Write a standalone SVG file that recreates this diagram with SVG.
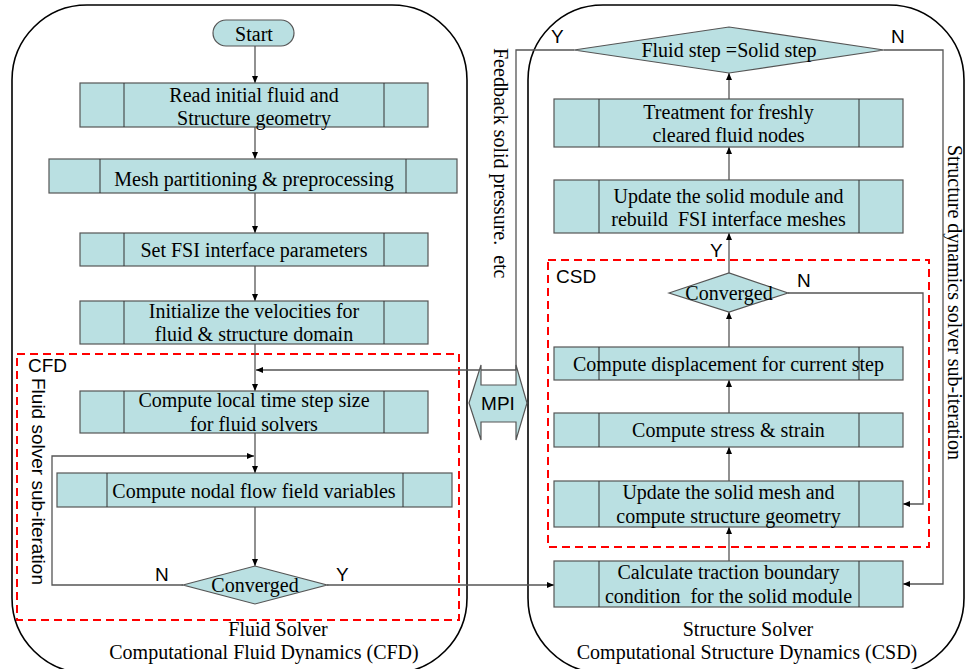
<svg xmlns="http://www.w3.org/2000/svg" width="965" height="669" viewBox="0 0 965 669">
<style>
.frame{fill:none;stroke:#000;stroke-width:1.6}
.dash{fill:none;stroke:#ff0000;stroke-width:2;stroke-dasharray:8,5}
.box{fill:#bae0e2;stroke:#555;stroke-width:1.2}
.inner{fill:none;stroke:#333;stroke-width:1}
.con{fill:none;stroke:#555;stroke-width:1.3}
.t{font-family:"Liberation Serif","Times New Roman",serif;font-size:20px;fill:#000;text-anchor:middle}
.s{font-family:"Liberation Sans",Arial,sans-serif;font-size:19px;fill:#000}
.pre{white-space:pre}
</style>
<defs>
<marker id="ah" markerUnits="userSpaceOnUse" markerWidth="8" markerHeight="8" refX="7" refY="3" orient="auto">
<path d="M0,0L7,3L0,6z" fill="#000"/>
</marker>
</defs>
<rect class="frame" x="12" y="5" width="455" height="668" rx="75" ry="75"/>
<rect class="frame" x="528" y="5" width="436" height="668" rx="75" ry="75"/>
<rect class="dash" x="17" y="354" width="442" height="266"/>
<rect class="dash" x="548" y="260" width="381" height="287"/>
<text class="s" x="28" y="372">CFD</text>
<text class="s" x="556" y="283">CSD</text>
<text class="s" transform="translate(32,378) rotate(90)">Fluid solver sub-iteration</text>
<text class="t pre" style="text-anchor:start" transform="translate(494,48) rotate(90)">Feedback solid pressure.  etc</text>
<text class="t" style="text-anchor:start" transform="translate(948,145) rotate(90)">Structure dynamics solver sub-iteration</text>
<text class="t" x="278" y="636">Fluid Solver</text>
<text class="t" x="264" y="659">Computational Fluid Dynamics (CFD)</text>
<text class="t" x="748" y="636">Structure Solver</text>
<text class="t" x="747" y="659">Computational Structure Dynamics (CSD)</text>
<g id="connectors">
<path class="con" marker-end="url(#ah)" d="M255,46V83"/>
<path class="con" marker-end="url(#ah)" d="M255,127V159"/>
<path class="con" marker-end="url(#ah)" d="M255,193V233"/>
<path class="con" marker-end="url(#ah)" d="M255,266V301"/>
<path class="con" marker-end="url(#ah)" d="M255,344V391"/>
<path class="con" marker-end="url(#ah)" d="M574,50H516V370H256"/>
<path class="con" marker-end="url(#ah)" d="M255,433V473"/>
<path class="con" marker-end="url(#ah)" d="M183,585H52V456H254"/>
<path class="con" marker-end="url(#ah)" d="M255,507V566"/>
<path class="con" marker-end="url(#ah)" d="M327,585H554"/>
<path class="con" marker-end="url(#ah)" d="M729,561V527"/>
<path class="con" marker-end="url(#ah)" d="M729,481V447"/>
<path class="con" marker-end="url(#ah)" d="M729,413V380"/>
<path class="con" marker-end="url(#ah)" d="M729,347V312"/>
<path class="con" marker-end="url(#ah)" d="M729,273V233"/>
<path class="con" marker-end="url(#ah)" d="M729,180V147"/>
<path class="con" marker-end="url(#ah)" d="M729,99V73"/>
<path class="con" marker-end="url(#ah)" d="M788,293H923V504H903"/>
<path class="con" marker-end="url(#ah)" d="M884,50H943V584H903"/>
<text class="s" x="155" y="581">N</text>
<text class="s" x="336" y="581">Y</text>
<text class="s" x="551" y="43">Y</text>
<text class="s" x="891" y="43">N</text>
<text class="s" x="710" y="257">Y</text>
<text class="s" x="797" y="287">N</text>
</g>
<g id="n-start">
<rect class="box" x="213" y="20" width="81" height="26" rx="13" ry="13"/>
<text class="t" x="254" y="41">Start</text>
</g>
<g id="n-read">
<rect class="box" x="80" y="83" width="348" height="44"/>
<path class="inner" d="M124,83V127M384,83V127"/>
<text class="t"><tspan x="254" y="101.5">Read initial fluid and</tspan><tspan x="254" y="125">Structure geometry</tspan></text>
</g>
<g id="n-mesh">
<rect class="box" x="49" y="159" width="408" height="34"/>
<path class="inner" d="M100,159V193M406,159V193"/>
<text class="t" x="254" y="185.5">Mesh partitioning &amp; preprocessing</text>
</g>
<g id="n-fsi">
<rect class="box" x="80" y="233" width="348" height="33"/>
<path class="inner" d="M124,233V266M384,233V266"/>
<text class="t" x="254" y="256.5">Set FSI interface parameters</text>
</g>
<g id="n-init">
<rect class="box" x="80" y="301" width="348" height="43"/>
<path class="inner" d="M124,301V344M384,301V344"/>
<text class="t"><tspan x="254" y="318">Initialize the velocities for</tspan><tspan x="254" y="341">fluid &amp; structure domain</tspan></text>
</g>
<g id="n-timestep">
<rect class="box" x="80" y="391" width="348" height="42"/>
<path class="inner" d="M124,391V433M384,391V433"/>
<text class="t"><tspan x="254" y="407">Compute local time step size</tspan><tspan x="254" y="431">for fluid solvers</tspan></text>
</g>
<g id="n-nodal">
<rect class="box" x="57" y="473" width="395" height="34"/>
<path class="inner" d="M107,473V507M403,473V507"/>
<text class="t" x="254" y="497.5">Compute nodal flow field variables</text>
</g>
<g id="n-conv-cfd">
<path class="box" d="M183,585L255,566L327,585L255,604z"/>
<text class="t" x="255" y="591.5">Converged</text>
</g>
<g id="n-stepeq">
<path class="box" d="M574,50L729,27L884,50L729,73z"/>
<text class="t" x="729" y="57">Fluid step =Solid step</text>
</g>
<g id="n-treat">
<rect class="box" x="554" y="99" width="349" height="48"/>
<path class="inner" d="M599,99V147M859,99V147"/>
<text class="t"><tspan x="728.5" y="119">Treatment for freshly</tspan><tspan x="728.5" y="142">cleared fluid nodes</tspan></text>
</g>
<g id="n-update-module">
<rect class="box" x="554" y="180" width="349" height="53"/>
<path class="inner" d="M599,180V233M859,180V233"/>
<text class="t pre"><tspan x="728.5" y="202.5">Update the solid module and</tspan><tspan x="728.5" y="226">rebuild  FSI interface meshes</tspan></text>
</g>
<g id="n-conv-csd">
<path class="box" d="M669,293L729,273L788,293L729,312z"/>
<text class="t" x="729" y="300">Converged</text>
</g>
<g id="n-disp">
<rect class="box" x="554" y="347" width="349" height="33"/>
<path class="inner" d="M599,347V380M859,347V380"/>
<text class="t" x="728.5" y="370.5">Compute displacement for current step</text>
</g>
<g id="n-stress">
<rect class="box" x="554" y="413" width="349" height="34"/>
<path class="inner" d="M599,413V447M859,413V447"/>
<text class="t" x="728.5" y="437">Compute stress &amp; strain</text>
</g>
<g id="n-update-mesh">
<rect class="box" x="554" y="481" width="349" height="46"/>
<path class="inner" d="M599,481V527M859,481V527"/>
<text class="t"><tspan x="728.5" y="498.5">Update the solid mesh and</tspan><tspan x="728.5" y="522.5">compute structure geometry</tspan></text>
</g>
<g id="n-traction">
<rect class="box" x="554" y="561" width="349" height="46"/>
<path class="inner" d="M599,561V607M859,561V607"/>
<text class="t pre"><tspan x="728.5" y="578.5">Calculate traction boundary</tspan><tspan x="728.5" y="602.5">condition  for the solid module</tspan></text>
</g>
<g id="n-mpi">
<path class="box" d="M469,403L481,365V385H516V365L527,403L516,440V422H481V440z"/>
<text class="s" x="498" y="410" style="text-anchor:middle">MPI</text>
</g>
</svg>
